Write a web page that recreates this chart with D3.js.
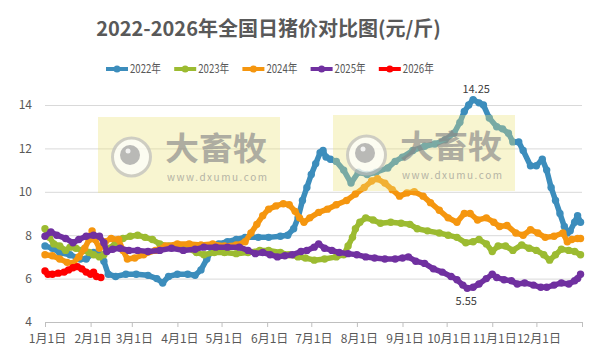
<!DOCTYPE html>
<html><head><meta charset="utf-8">
<script src="https://cdn.jsdelivr.net/npm/d3@7"></script>
<style>
body{margin:0;background:#fff}
text{font-family:"Noto Sans CJK SC","Noto Sans",sans-serif}
</style>
</head><body>
<svg id="c" width="610" height="358"></svg>
<script>
// ---- data ----
const title = "2022-2026年全国日猪价对比图(元/斤)";
const seriesNames = ["2022年","2023年","2024年","2025年","2026年"];
const seriesColors = ["#3c8dbc","#9cbb31","#f5960f","#7030a0","#ff0000"];
const yTicks = [4,6,8,10,12,14];
const monthLabels = ["1月1日","2月1日","3月1日","4月1日","5月1日","6月1日","7月1日","8月1日","9月1日","10月1日","11月1日","12月1日"];
// day index counted from Jan 1
const days2022 = [0,5,10,17,24,28,33,38,40,43,48,55,62,70,76,80,84,90,97,102,106,110,114,118,124,130,136,145,152,160,165,169,172,175,178,181,184,187,189,191,194,198,203,208,213,219,225,233,238,243,250,258,265,272,278,282,285,288,291,295,298,302,307,311,315,318,322,325,330,334,338,341,344,347,350,353,355,357,360,362,364];
const price2022 = [7.5,7.4,7.2,7.1,6.9,6.9,7.2,7.1,6.8,6.2,6.1,6.2,6.2,6.15,6.0,5.8,6.1,6.2,6.2,6.15,6.4,6.9,7.4,7.6,7.7,7.8,7.9,7.9,7.9,7.95,8.0,8.3,8.8,9.6,10.2,10.8,11.3,11.8,11.9,11.6,11.5,11.4,11.0,10.4,10.9,10.8,10.9,11.1,11.4,11.6,11.9,12.1,12.2,12.4,12.7,13.2,13.7,14.0,14.25,14.1,14.0,13.4,13.0,12.9,12.7,12.3,12.3,11.9,11.2,11.2,11.5,11.0,10.2,9.6,9.0,8.4,8.1,8.2,8.6,8.9,8.6];
const days2023 = [0,3,6,10,14,17,21,25,30,33,37,40,44,48,53,58,63,68,73,78,84,90,97,103,108,115,122,130,138,146,152,160,166,172,177,183,190,198,203,206,209,211,214,218,223,228,235,242,248,253,260,268,274,280,286,291,295,300,304,308,313,318,324,329,334,339,343,347,351,356,360,364];
const price2023 = [8.3,7.9,7.6,7.5,7.3,7.45,7.4,7.3,7.2,7.1,7.0,7.1,7.4,7.65,7.85,7.95,8.0,7.9,7.8,7.6,7.5,7.5,7.4,7.2,7.1,7.2,7.2,7.15,7.2,7.3,7.3,7.2,7.1,7.0,6.95,6.85,6.9,7.0,7.1,7.5,7.9,8.3,8.6,8.8,8.7,8.55,8.6,8.55,8.5,8.3,8.2,8.1,8.0,7.9,7.65,7.7,7.8,7.6,7.25,7.5,7.5,7.3,7.55,7.4,7.3,7.1,6.85,7.1,7.35,7.3,7.25,7.1];
const days2024 = [0,5,10,15,19,23,27,30,32,34,37,41,45,50,53,56,61,67,75,82,90,98,106,114,122,130,136,140,144,148,152,157,162,166,170,173,176,180,186,192,198,205,211,217,222,226,231,236,241,246,251,257,262,268,274,280,285,289,294,300,305,309,314,320,325,330,335,340,346,352,355,358,362,364];
const price2024 = [7.1,7.05,6.9,6.75,6.7,7.0,7.4,7.8,8.2,7.8,7.4,7.7,7.85,7.8,7.3,6.9,6.95,7.1,7.3,7.5,7.6,7.6,7.55,7.6,7.5,7.55,7.7,8.1,8.5,8.9,9.2,9.35,9.45,9.4,9.1,8.8,8.6,8.8,9.05,9.2,9.4,9.6,9.9,10.2,10.5,10.6,10.4,10.1,9.8,9.95,10.0,9.8,9.5,9.15,8.8,8.6,9.0,9.0,8.7,8.8,8.6,8.4,8.45,8.1,8.0,8.25,8.1,7.9,7.95,8.1,7.7,7.8,7.85,7.85];
const days2025 = [0,4,8,14,19,23,28,33,37,40,42,46,51,57,63,70,78,86,94,102,108,116,124,132,138,143,148,153,158,163,168,174,178,183,186,190,195,200,206,212,218,224,231,238,243,247,252,258,264,270,276,280,284,287,291,295,300,304,307,312,317,321,326,332,337,341,346,351,356,360,362,364];
const price2025 = [7.95,8.15,8.0,7.85,7.65,7.8,7.95,8.0,7.95,7.65,7.25,7.35,7.4,7.3,7.3,7.25,7.3,7.4,7.3,7.35,7.45,7.45,7.45,7.45,7.3,7.15,7.2,7.1,7.0,7.05,7.1,7.25,7.3,7.45,7.6,7.4,7.3,7.2,7.15,7.1,7.0,6.95,6.9,6.9,6.95,7.0,6.8,6.7,6.45,6.3,6.1,5.95,5.7,5.55,5.6,5.75,6.0,6.2,6.05,5.95,5.9,5.75,5.8,5.7,5.6,5.6,5.7,5.8,5.75,5.9,6.0,6.2];
const days2026 = [0,2,5,9,13,16,19,22,25,28,31,33,35,38];
const price2026 = [6.35,6.2,6.2,6.25,6.3,6.4,6.5,6.55,6.45,6.3,6.2,6.3,6.1,6.05];
const peakLabel = {series: 0, text: "14.25"};
const lowLabel = {series: 3, text: "5.55"};

// ---- chart ----
const allDays = [days2022,days2023,days2024,days2025,days2026];
const allPrices = [price2022,price2023,price2024,price2025,price2026];
const base = new Date(2023,0,1);
const series = seriesNames.map((name,i)=>({
  name, color: seriesColors[i],
  values: allDays[i].map((d,j)=>({date: d3.timeDay.offset(base,d), v: allPrices[i][j]}))
}));

const svg = d3.select("#c");
svg.append("rect").attr("width",610).attr("height",358).attr("fill","#fff");

const x = d3.scaleTime().domain([base, new Date(2024,0,1)]).range([45,582]);
const y = d3.scaleLinear().domain([4,14]).range([322,105]);

// grid + y labels
const yAxis = svg.append("g").attr("transform","translate(45,0)")
  .call(d3.axisLeft(y).tickValues(yTicks).tickSize(-537).tickPadding(13).tickFormat(d3.format("d")));
yAxis.select(".domain").remove();
yAxis.selectAll("line").attr("stroke","#d9d9d9").attr("stroke-width",1);
yAxis.selectAll("text").attr("fill","#595959").style("font-size","12px");

// x axis
const monthTicks = d3.timeMonth.range(base, new Date(2024,0,2));
const xAxis = svg.append("g").attr("transform","translate(0,322)")
  .call(d3.axisBottom(x).tickValues(monthTicks).tickSize(5).tickPadding(7)
    .tickFormat((d,i)=>monthLabels[i]||""));
xAxis.select(".domain").attr("stroke","#bfbfbf");
xAxis.selectAll("line").attr("stroke","#bfbfbf");
xAxis.selectAll("text").attr("fill","#595959").style("font-size","12px").attr("dx","2");

// lines
const line = d3.line().x(d=>x(d.date)).y(d=>y(d.v));
const lg = svg.append("g");
series.forEach(s=>{
  const g = lg.append("g");
  g.append("path").datum(s.values).attr("d",line).attr("fill","none")
    .attr("stroke",s.color).attr("stroke-width",5.5).attr("stroke-linejoin","round");
  g.selectAll("circle").data(s.values).join("circle")
    .attr("cx",d=>x(d.date)).attr("cy",d=>y(d.v)).attr("r",3.7).attr("fill",s.color);
});

// watermarks
function watermark(x0,y0){
  const g = svg.append("g").attr("transform",`translate(${x0},${y0})`);
  g.append("rect").attr("width",182).attr("height",76).attr("fill","rgb(235,225,120)").attr("opacity",0.35);
  g.append("circle").attr("cx",33.5).attr("cy",40).attr("r",19).attr("fill","#ffffff").attr("opacity",0.7)
    .attr("stroke","#bdbdbd").attr("stroke-width",3);
  g.append("circle").attr("cx",32).attr("cy",38).attr("r",10).attr("fill","#a8a8a8").attr("opacity",0.8);
  g.append("circle").attr("cx",30).attr("cy",34).attr("r",2.5).attr("fill","#ffffff").attr("opacity",0.8);
  g.append("text").attr("x",67).attr("y",43).text("大畜牧")
    .attr("fill","#888").attr("opacity",0.65).style("font-size","32px").style("font-weight","bold")
    .attr("textLength",102).attr("lengthAdjust","spacingAndGlyphs");
  g.append("text").attr("x",69).attr("y",64).text("www.dxumu.com")
    .attr("fill","#888").attr("opacity",0.6).style("font-size","10px")
    .attr("textLength",100).attr("lengthAdjust","spacing");
}
watermark(98,117);
watermark(333,115);

// data labels
const pk = series[peakLabel.series].values.find(d=>d.v===14.25);
svg.append("text").attr("x",x(pk.date)+3).attr("y",y(pk.v)-7).attr("text-anchor","middle")
  .text(peakLabel.text).attr("fill","#404040").style("font-size","11px");
const lw = series[lowLabel.series].values.find(d=>d.v===5.55);
svg.append("text").attr("x",x(lw.date)-1).attr("y",y(lw.v)+16.5).attr("text-anchor","middle")
  .text(lowLabel.text).attr("fill","#404040").style("font-size","11px");

// title
svg.append("text").attr("x",268.5).attr("y",36).attr("text-anchor","middle").text(title)
  .attr("fill","#595959").style("font-size","20px").style("font-weight","bold");

// legend
const leg = svg.append("g").attr("transform","translate(106,69)");
series.forEach((s,i)=>{
  const g = leg.append("g").attr("transform",`translate(${i*68.2},0)`);
  g.append("line").attr("x1",0).attr("x2",22).attr("stroke",s.color).attr("stroke-width",4);
  g.append("circle").attr("cx",11).attr("r",3.5).attr("fill",s.color);
  g.append("text").attr("x",24).attr("y",4.2).text(s.name).attr("fill","#595959")
    .style("font-size","12px").attr("textLength",31).attr("lengthAdjust","spacingAndGlyphs");
});
</script>
</body></html>
